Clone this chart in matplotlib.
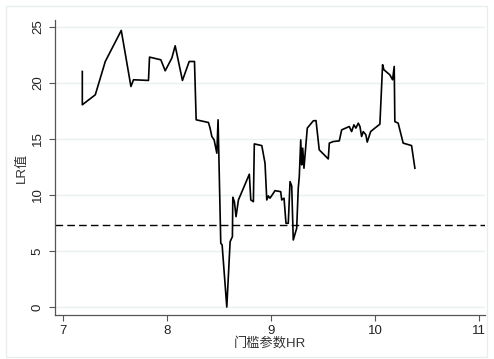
import matplotlib
matplotlib.use('Agg')
import matplotlib.pyplot as plt
from matplotlib.patches import Rectangle

plt.rcParams['font.family'] = ['Liberation Sans', 'Noto Sans CJK SC', 'DejaVu Sans']

# LR statistic over the threshold parameter HR
hr = [7.183, 7.183, 7.308, 7.404, 7.558, 7.651, 7.676, 7.820, 7.830, 7.939,
      7.981, 8.045, 8.077, 8.147, 8.212, 8.263, 8.279, 8.397, 8.413, 8.430,
      8.452, 8.478, 8.490, 8.516, 8.529, 8.574, 8.606, 8.628, 8.632, 8.647,
      8.663, 8.686, 8.734, 8.791, 8.805, 8.830, 8.839, 8.911, 8.942, 8.959,
      8.974, 8.990, 9.022, 9.038, 9.093, 9.103, 9.125, 9.144, 9.166, 9.183,
      9.199, 9.214, 9.247, 9.262, 9.272, 9.286, 9.295, 9.305, 9.317, 9.349,
      9.407, 9.433, 9.464, 9.551, 9.561, 9.599, 9.657, 9.680, 9.753, 9.776,
      9.798, 9.817, 9.840, 9.856, 9.872, 9.888, 9.913, 9.926, 9.959, 10.000,
      10.048, 10.074, 10.087, 10.144, 10.170, 10.186, 10.192, 10.224, 10.272, 10.353,
      10.385]
lr = [21.01, 18.04, 18.93, 21.90, 24.67, 19.67, 20.27, 20.21, 22.29, 22.05,
      21.07, 22.21, 23.30, 20.21, 21.90, 21.90, 16.70, 16.46, 15.96, 15.21,
      14.91, 13.72, 16.70, 5.69, 5.54, 0.0, 5.83, 6.28, 9.79, 9.40,
      8.06, 9.55, 10.60, 11.85, 9.55, 9.40, 14.55, 14.40, 12.83, 9.55,
      9.91, 9.71, 10.15, 10.38, 10.29, 9.55, 9.71, 7.47, 7.47, 11.19,
      10.80, 5.98, 7.03, 10.60, 11.63, 14.91, 12.68, 14.17, 12.38, 15.96,
      16.61, 16.63, 14.02, 13.21, 14.62, 14.76, 14.82, 15.80, 16.10, 15.65,
      16.25, 15.96, 16.40, 16.10, 15.21, 15.65, 15.36, 14.71, 15.65, 15.96,
      16.31, 21.61, 21.16, 20.71, 20.27, 21.46, 16.54, 16.40, 14.62, 14.40,
      12.38]
crit = 7.35

xticks = [7, 8, 9, 10, 11]
yticks = [0, 5, 10, 15, 20, 25]

fig = plt.figure(figsize=(4.94, 3.59), dpi=100)
fig.patches.append(Rectangle((6 / 494, 2 / 359), 481 / 494, 351 / 359, transform=fig.transFigure,
                             fill=False, edgecolor='#e6eeef', linewidth=1.0))
ax = fig.add_axes([55 / 494, 1 - 315 / 359, 430 / 494, 295 / 359])

for y in yticks:
    ax.axhline(y, color='#e9f1f2', linewidth=1.0, zorder=0)

ax.plot(hr, lr, color='black', linewidth=1.2, zorder=3)
ax.axhline(crit, color='black', linewidth=1.0, dashes=(5.5, 3), zorder=2)

ax.set_xlim(6.92, 11.06)
ax.set_ylim(-0.71, 25.6)
ax.set_xticks(xticks)
ax.set_yticks(yticks)
ax.set_yticklabels([str(v) for v in yticks], rotation=90, va='center')

for side in ['top', 'right']:
    ax.spines[side].set_visible(False)
for side in ['left', 'bottom']:
    ax.spines[side].set_color('#555555')
    ax.spines[side].set_linewidth(0.9)
ax.tick_params(direction='out', length=4, width=0.8, color='#555555', labelsize=9.5, labelcolor='#222222')
ax.tick_params(axis='x', pad=3)
ax.tick_params(axis='y', pad=4)

ax.set_xlabel('门槛参数HR', fontsize=9.5, color='#333333', labelpad=0)
ax.set_ylabel('LR值', fontsize=9.5, color='#333333', labelpad=3)

fig.savefig('out.png', dpi=100, facecolor='white')
